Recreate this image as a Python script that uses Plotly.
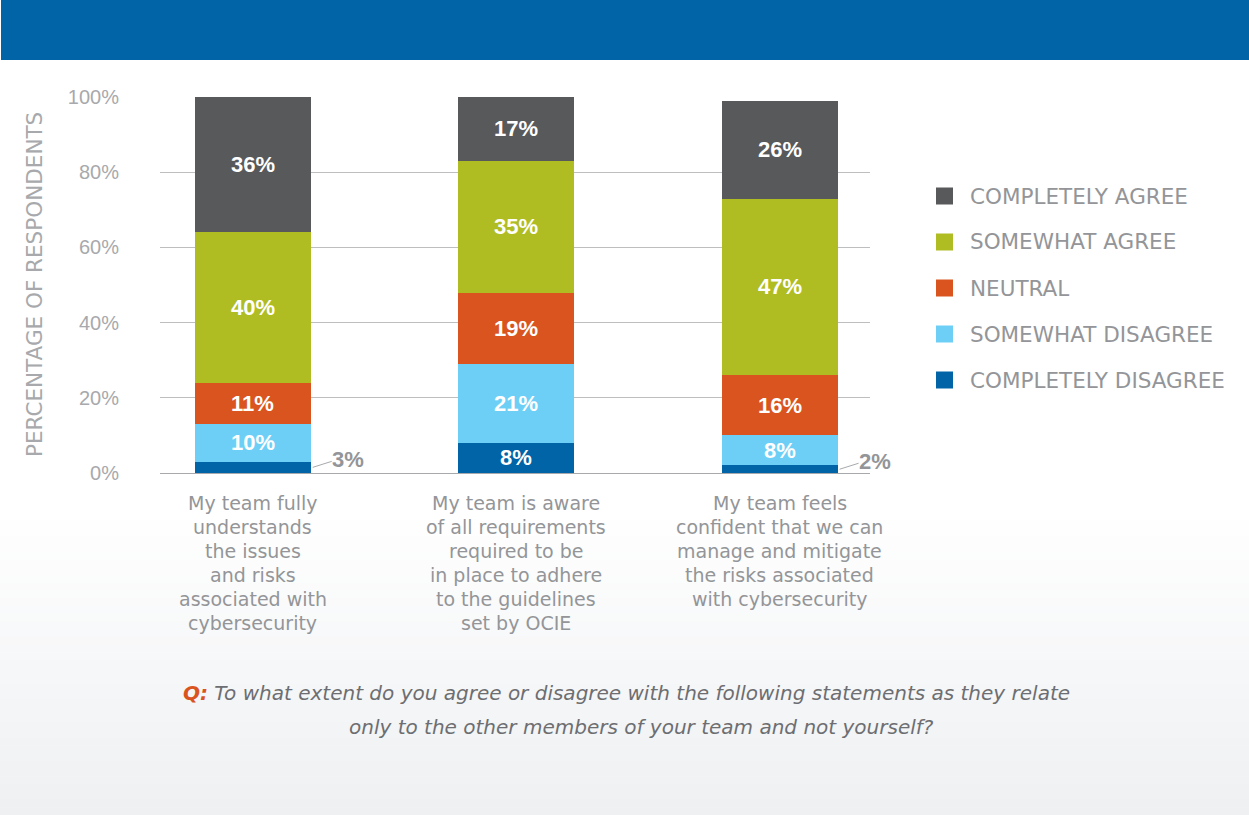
import plotly.graph_objects as go

# Survey data: share of respondents per answer, stacked per statement
statements = [
    "My team fully<br>understands<br>the issues<br>and risks<br>associated with<br>cybersecurity",
    "My team is aware<br>of all requirements<br>required to be<br>in place to adhere<br>to the guidelines<br>set by OCIE",
    "My team feels<br>confident that we can<br>manage and mitigate<br>the risks associated<br>with cybersecurity",
]
series_names = [
    "COMPLETELY DISAGREE",
    "SOMEWHAT DISAGREE",
    "NEUTRAL",
    "SOMEWHAT AGREE",
    "COMPLETELY AGREE",
]
completely_disagree = [3, 8, 2]
somewhat_disagree = [10, 21, 8]
neutral = [11, 19, 16]
somewhat_agree = [40, 35, 47]
completely_agree = [36, 17, 26]
series_values = [completely_disagree, somewhat_disagree, neutral,
                 somewhat_agree, completely_agree]
series_colors = ["#0064a7", "#6dcff6", "#d9541e", "#afbd22", "#58595b"]
y_ticks = [0, 20, 40, 60, 80, 100]
y_tick_labels = ["0%", "20%", "40%", "60%", "80%", "100%"]

W, H = 1249, 815
ML, MR, MT, MB = 160, 379, 97, 342
PW, PH = W - ML - MR, H - MT - MB

TEXT_FONT = "'DejaVu Sans', Verdana, sans-serif"
NUM_FONT = "'Liberation Sans', Arial, sans-serif"
GREY_TEXT = "#939598"
BAR_W = 0.44
SMALL = 5  # segments below this get an outside label with a leader line
LINE_STEP = 24  # line spacing of the statement labels, px


def px_x(px):
    return (px - ML) / PW


def px_y(py):
    return (H - MB - py) / PH


x_pos = list(range(len(statements)))

fig = go.Figure()
for name, vals, color in zip(series_names, series_values, series_colors):
    fig.add_trace(go.Bar(
        name=name, x=x_pos, y=vals, width=BAR_W,
        marker=dict(color=color, line=dict(width=0)),
        hovertemplate="%{y}%<extra>" + name + "</extra>",
    ))

shapes = []
annotations = []

# Page background: banner on top, soft grey fade towards the bottom
steps = 40
g0, g1 = 505, H
for k in range(steps):
    t = k / (steps - 1)
    r = round(255 + (238 - 255) * t)
    g = round(255 + (240 - 255) * t)
    b = round(255 + (242 - 255) * t)
    y_top = g0 + (g1 - g0) * k / steps
    y_bot = g0 + (g1 - g0) * (k + 1) / steps
    shapes.append(dict(type="rect", xref="paper", yref="paper", layer="below",
                       x0=px_x(0), x1=px_x(W), y0=px_y(y_bot + 0.5), y1=px_y(y_top),
                       fillcolor=f"rgb({r},{g},{b})", line=dict(width=0)))
shapes.append(dict(type="rect", xref="paper", yref="paper", layer="below",
                   x0=px_x(1), x1=px_x(W), y0=px_y(60), y1=px_y(0),
                   fillcolor="#0064a7", line=dict(width=0)))

# Value labels: centred in each segment, or outside with a leader line when thin
base = [0] * len(statements)
for vals in series_values:
    for i, v in enumerate(vals):
        mid = base[i] + v / 2
        if v < SMALL:
            shapes.append(dict(type="line", xref="x", yref="y",
                               xsizemode="pixel", xanchor=i + BAR_W / 2, x0=2, x1=21,
                               ysizemode="pixel", yanchor=mid, y0=0, y1=6,
                               line=dict(color="#a7a9ac", width=1)))
            annotations.append(dict(x=i + BAR_W / 2, y=mid, xref="x", yref="y",
                                    xanchor="left", yanchor="middle",
                                    xshift=19, yshift=8, showarrow=False,
                                    text=f"{v}%",
                                    font=dict(family=NUM_FONT, size=22, color=GREY_TEXT,
                                              weight="bold")))
        else:
            annotations.append(dict(x=i, y=mid, xref="x", yref="y",
                                    xanchor="center", yanchor="middle", showarrow=False,
                                    text=f"{v}%",
                                    font=dict(family=NUM_FONT, size=22, color="white",
                                              weight="bold")))
        base[i] += v

# Statement labels under each bar, one annotation per line for even spacing
for i, s in enumerate(statements):
    for j, line in enumerate(s.split("<br>")):
        annotations.append(dict(x=i, y=0, xref="x", yref="y", xanchor="center",
                                yanchor="middle", yshift=-30 - j * LINE_STEP,
                                showarrow=False, text=line,
                                font=dict(family=TEXT_FONT, size=19, color=GREY_TEXT)))

# Legend: colour swatches and names, top entry first
legend_top, legend_step = 196, 46
for k, (name, color) in enumerate(zip(reversed(series_names), reversed(series_colors))):
    cy = legend_top + k * legend_step
    shapes.append(dict(type="rect", xref="paper", yref="paper",
                       x0=px_x(936), x1=px_x(953), y0=px_y(cy + 8.5), y1=px_y(cy - 8.5),
                       fillcolor=color, line=dict(width=0)))
    annotations.append(dict(x=px_x(968), y=px_y(cy), xref="paper", yref="paper",
                            xanchor="left", yanchor="middle", showarrow=False,
                            text=name, font=dict(family=TEXT_FONT, size=21.5, color=GREY_TEXT)))

# Axis title
annotations.append(dict(x=px_x(34), y=0.5, xref="paper", yref="paper",
                        xanchor="center", yanchor="middle", textangle=-90,
                        showarrow=False, text="PERCENTAGE OF RESPONDENTS",
                        font=dict(family=TEXT_FONT, size=21.5, color="#a7a9ac")))

# Survey question
annotations.append(dict(x=px_x(626), y=px_y(693), xref="paper", yref="paper",
                        xanchor="center", yanchor="middle", showarrow=False,
                        text="<span style='color:#d9541e'><b>Q:</b></span> To what extent do you "
                             "agree or disagree with the following statements as they relate",
                        font=dict(family=TEXT_FONT, size=20, color="#6d6e71", style="italic")))
annotations.append(dict(x=px_x(641), y=px_y(727), xref="paper", yref="paper",
                        xanchor="center", yanchor="middle", showarrow=False,
                        text="only to the other members of your team and not yourself?",
                        font=dict(family=TEXT_FONT, size=20, color="#6d6e71", style="italic")))

fig.update_layout(
    width=W, height=H,
    margin=dict(l=ML, r=MR, t=MT, b=MB, pad=0),
    barmode="stack",
    showlegend=False,
    paper_bgcolor="white",
    plot_bgcolor="rgba(0,0,0,0)",
    shapes=shapes,
    annotations=annotations,
    xaxis=dict(range=[-0.352, 2.343], showticklabels=False, showgrid=False,
               zeroline=False, showline=False, fixedrange=True),
    yaxis=dict(range=[0, 100], tickvals=y_ticks, ticktext=y_tick_labels,
               showgrid=True, gridcolor="#bcbec0", gridwidth=1,
               zeroline=True, zerolinecolor="#a7a9ac", zerolinewidth=1,
               showline=False, ticks="", ticklabelstandoff=40,
               tickfont=dict(family=NUM_FONT, size=20, color="#a7a9ac"),
               fixedrange=True),
)

fig.write_html("out.html")
